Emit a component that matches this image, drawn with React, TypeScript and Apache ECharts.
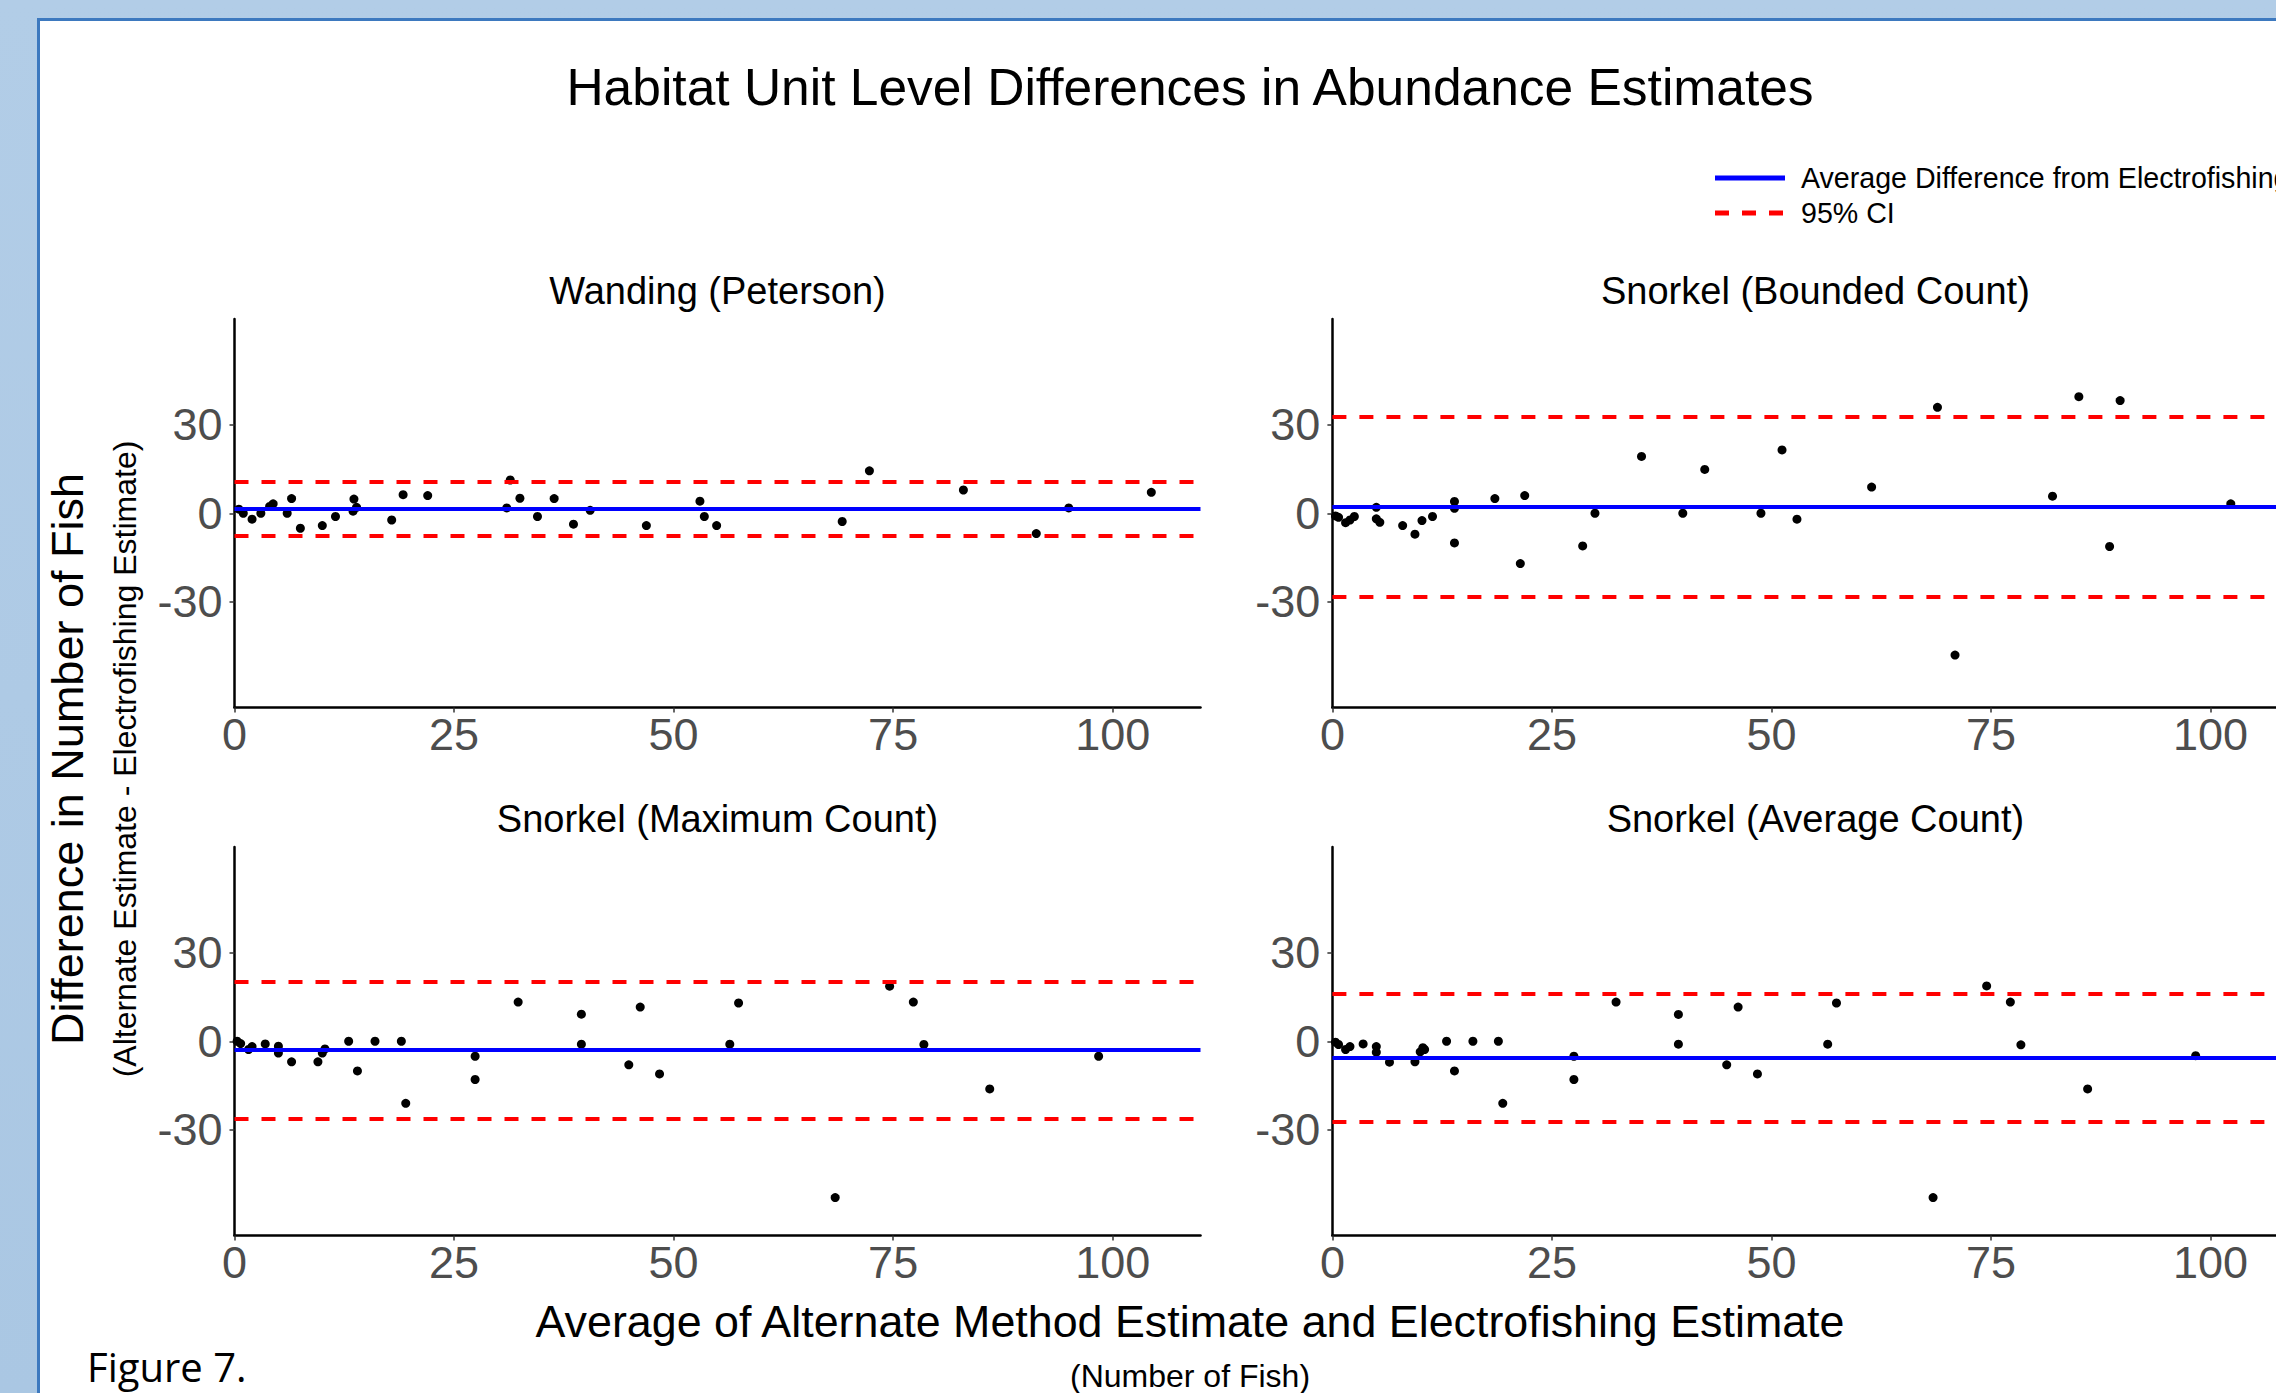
import React, { useEffect, useRef } from 'react';
import * as echarts from 'echarts';

// ---------- data ----------
const chartTitle = 'Habitat Unit Level Differences in Abundance Estimates';
const panelTitles = ['Wanding (Peterson)', 'Snorkel (Bounded Count)', 'Snorkel (Maximum Count)', 'Snorkel (Average Count)'];
const legendLabels = ['Average Difference from Electrofishing', '95% CI'];
const yTitle = 'Difference in Number of Fish';
const ySubTitle = '(Alternate Estimate - Electrofishing Estimate)';
const xTitle = 'Average of Alternate Method Estimate and Electrofishing Estimate';
const xSubTitle = '(Number of Fish)';
const figureLabel = 'Figure 7.';

const xTicks = [0, 25, 50, 75, 100];
const yTicks = [-30, 0, 30];

const wandingPoints = [
  [0.5, 1.4], [1.0, 0], [2.0, -2.0], [3.0, 0], [4.0, 2.3], [4.4, 3.2], [6.0, 0], [6.5, 5.0],
  [7.5, -5.1], [10.0, -4.2], [11.5, -1.1], [13.6, 4.8], [13.5, 0.7], [13.9, 2.0], [17.9, -2.3],
  [19.2, 6.3], [22.0, 6.0], [31.0, 1.8], [31.4, 11.3], [32.5, 5.1], [34.5, -1.1], [36.4, 5.0],
  [38.6, -3.7], [40.5, 1.0], [46.9, -4.2], [53.0, 4.1], [53.5, -1.1], [54.9, -4.2], [69.2, -2.8],
  [72.3, 14.4], [83.0, 7.9], [91.3, -6.9], [95.0, 1.8], [104.4, 7.1],
];
const boundedPoints = [
  [0.35, -0.9], [0.7, -1.4], [1.5, -3.2], [2.0, -2.3], [2.5, -1.1], [5.0, 2.0], [5.0, -1.9],
  [5.4, -3.1], [8.0, -4.2], [9.4, -7.1], [10.2, -2.5], [11.4, -1.1], [13.9, 4.0], [13.9, 1.7],
  [13.9, -10.1], [18.5, 5.0], [21.9, 6.0], [21.4, -17.1], [28.5, -11.1], [29.9, 0], [35.2, 19.3],
  [39.9, 0], [42.4, 14.9], [48.8, 0], [51.2, 21.5], [52.9, -2.0], [61.4, 8.9], [68.9, 36.0],
  [70.9, -48.2], [82.0, 5.8], [85.0, 39.6], [88.5, -11.3], [89.7, 38.3], [102.3, 3.2],
];
const maximumPoints = [
  [0.3, 0], [0.7, -0.8], [1.6, -2.8], [2.0, -1.8], [3.5, -0.9], [5.0, -1.7], [5.0, -4.0],
  [6.5, -7.0], [9.5, -7.0], [10.0, -4.0], [10.3, -2.6], [13.0, 0], [14.0, -10.1], [16.0, 0],
  [19.0, 0], [19.5, -21.1], [27.4, -5.1], [27.4, -13.0], [32.3, 13.3], [39.5, 9.2], [39.5, -1.0],
  [44.9, -8.0], [46.2, 11.6], [48.4, -11.1], [56.4, -1.0], [57.4, 13.0], [68.4, -53.1],
  [74.6, 18.7], [77.3, 13.3], [78.5, -1.1], [86.0, -16.2], [98.4, -5.1],
];
const averagePoints = [
  [0.35, -0.3], [0.7, -1.1], [1.5, -2.8], [2.0, -1.8], [3.5, -0.9], [5.0, -1.8], [5.0, -3.7],
  [6.5, -7.1], [9.4, -7.0], [10.0, -3.6], [10.3, -2.2], [10.5, -2.8], [13.0, 0], [13.9, -10.1],
  [16.0, 0], [18.9, 0], [19.4, -21.1], [27.5, -5.1], [27.5, -13.0], [32.3, 13.3], [39.4, 9.1],
  [39.4, -1.0], [44.9, -8.0], [46.2, 11.6], [48.4, -11.1], [56.4, -1.0], [57.4, 13.0],
  [68.4, -53.1], [74.5, 18.8], [77.2, 13.3], [78.4, -1.2], [86.0, -16.2], [98.3, -4.9],
];
const panelPoints = [wandingPoints, boundedPoints, maximumPoints, averagePoints];
const meanDiff = [1.4, 2.1, -3.0, -5.6];
const ciLower = [-7.8, -28.4, -26.3, -27.3];
const ciUpper = [10.6, 32.8, 20.3, 16.1];

const xRange = [0, 110];
const yRange = [-66, 66];

// ---------- layout ----------
const W = 2276;
const H = 1393;
const gridLeft = [234.5, 1332.4, 234.5, 1332.4];
const gridTop = [319, 319, 847, 847];
const gridW = 966;
const gridH = 388.5;

const FONT = '"Liberation Sans", Arial, Helvetica, sans-serif';
const BLUE = '#0000ff';
const RED = '#ff0000';
const DASH = [14, 13];

function buildOption() {
  const grids = gridLeft.map((l, i) => ({
    left: l, top: gridTop[i], width: gridW, height: gridH, containLabel: false, outerBoundsMode: 'none',
  }));
  const xAxes = gridLeft.map((_, i) => ({
    type: 'value', gridIndex: i, min: xRange[0], max: xRange[1],
    axisLine: { show: true, onZero: false, lineStyle: { color: '#000', width: 2.5 } },
    axisTick: { show: true, length: 5, customValues: xTicks, lineStyle: { color: '#333', width: 1.5 } },
    axisLabel: { show: true, customValues: xTicks, fontSize: 45, color: '#4d4d4d', fontFamily: FONT, margin: 4 },
    splitLine: { show: false },
  }));
  const yAxes = gridLeft.map((_, i) => ({
    type: 'value', gridIndex: i, min: yRange[0], max: yRange[1],
    axisLine: { show: true, onZero: false, lineStyle: { color: '#000', width: 2.5 } },
    axisTick: { show: true, length: 5, customValues: yTicks, lineStyle: { color: '#333', width: 1.5 } },
    axisLabel: { show: true, customValues: yTicks, fontSize: 45, color: '#4d4d4d', fontFamily: FONT, margin: 12 },
    splitLine: { show: false },
  }));
  const series: any[] = [];
  panelPoints.forEach((pts, i) => {
    series.push({
      type: 'scatter', xAxisIndex: i, yAxisIndex: i, data: [], z: 1, silent: true,
      markLine: {
        silent: true, symbol: ['none', 'none'], label: { show: false }, emphasis: { disabled: true },
        data: [
          { yAxis: ciLower[i], lineStyle: { color: RED, width: 4, type: DASH, opacity: 1 } },
          { yAxis: ciUpper[i], lineStyle: { color: RED, width: 4, type: DASH, opacity: 1 } },
          { yAxis: meanDiff[i], lineStyle: { color: BLUE, width: 4, type: 'solid', opacity: 1 } },
        ],
      },
    });
    series.push({
      type: 'scatter', xAxisIndex: i, yAxisIndex: i, data: pts, z: 3, symbolSize: 9,
      itemStyle: { color: '#000', opacity: 1 }, emphasis: { disabled: true },
    });
  });

  const txt = (text: string, x: number, y: number, size: number, extra: any = {}) => ({
    type: 'text', x, y, silent: true, ...extra,
    style: { text, fill: '#000', fontSize: size, fontFamily: FONT, textAlign: 'center', textVerticalAlign: 'middle', ...(extra.style || {}) },
  });

  const graphic: any[] = [
    { type: 'rect', silent: true, z: -10, shape: { x: 38.5, y: 19.5, width: W + 40, height: H + 40 }, style: { fill: '#ffffff', stroke: '#3d79bf', lineWidth: 3 } },
    txt(chartTitle, 1190, 87, 51.5),
    { type: 'line', silent: true, shape: { x1: 1715, y1: 178, x2: 1785, y2: 178 }, style: { stroke: BLUE, lineWidth: 5 } },
    { type: 'line', silent: true, shape: { x1: 1715, y1: 213, x2: 1785, y2: 213 }, style: { stroke: RED, lineWidth: 5, lineDash: DASH } },
    txt(legendLabels[0], 1801, 178, 28.6, { style: { textAlign: 'left' } }),
    txt(legendLabels[1], 1801, 213, 28.6, { style: { textAlign: 'left' } }),
    txt(yTitle, 67, 759, 45, { rotation: Math.PI / 2 }),
    txt(ySubTitle, 125, 759, 32, { rotation: Math.PI / 2 }),
    txt(xTitle, 1190, 1321, 44.8),
    txt(xSubTitle, 1190, 1376, 32),
    txt(figureLabel, 87, 1366, 40, { style: { textAlign: 'left', fontFamily: '"Open Sans", sans-serif' } }),
  ];
  panelTitles.forEach((t, i) => {
    graphic.push(txt(t, gridLeft[i] + 483, gridTop[i] - 28, 38));
  });

  return {
    animation: false,
    backgroundColor: 'transparent',
    grid: grids,
    xAxis: xAxes,
    yAxis: yAxes,
    series,
    graphic,
  };
}

export default function App() {
  const ref = useRef<HTMLDivElement>(null);
  useEffect(() => {
    if (!ref.current) return;
    const chart = echarts.init(ref.current, undefined, { renderer: 'svg', width: W, height: H });
    chart.setOption(buildOption() as any);
    return () => chart.dispose();
  }, []);
  return (
    <div
      style={{
        position: 'absolute', left: 0, top: 0, width: W, height: H, overflow: 'hidden',
        background: 'linear-gradient(180deg, #b2cde7 0%, #aac7e3 100%)',
      }}
    >
      <div ref={ref} style={{ width: W, height: H }} />
    </div>
  );
}
